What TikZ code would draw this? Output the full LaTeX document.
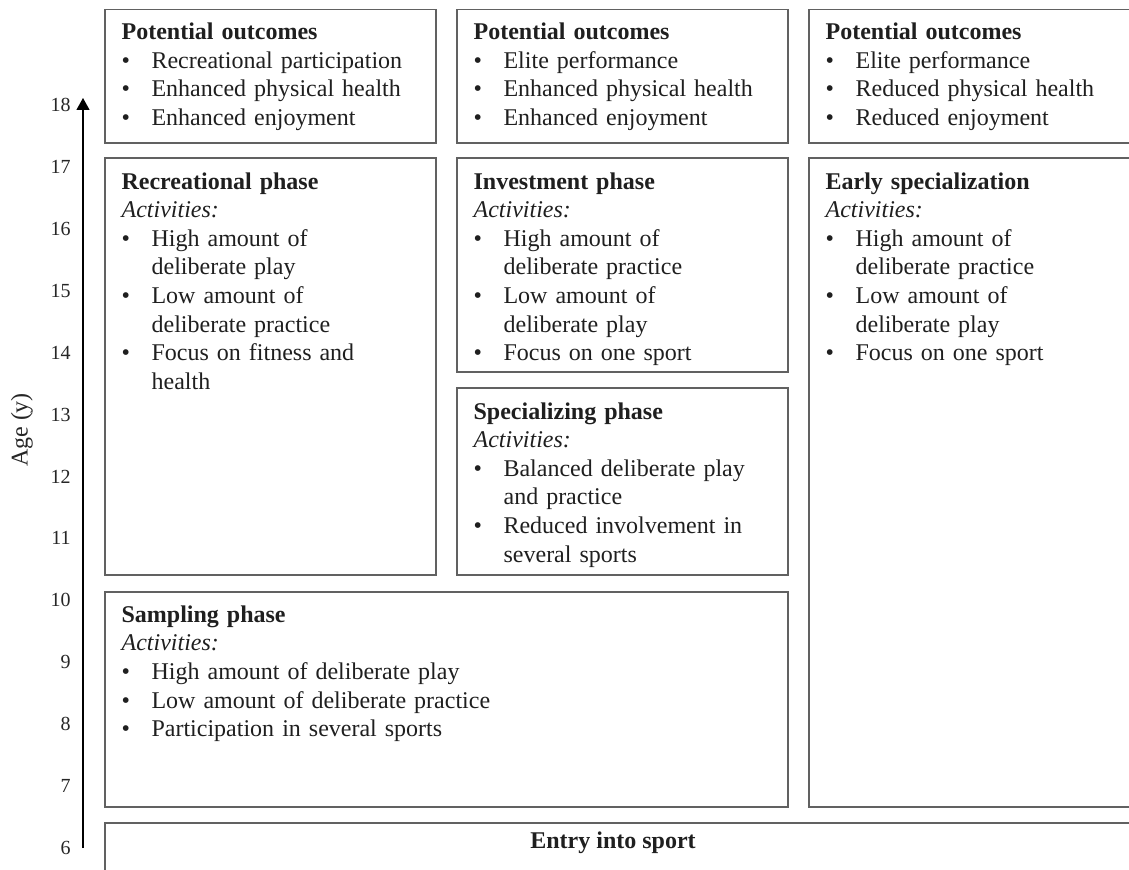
\documentclass[tikz,border=0pt]{standalone}
\usepackage{fontspec}
\setmainfont{Liberation Serif}
\usetikzlibrary{arrows.meta,fit}
% list helpers for the box texts
\newcommand{\bul}[1]{\par\hangindent=15pt\hangafter=1\noindent\makebox[15pt][l]{\textbullet}#1\par}
\newcommand{\ttl}[1]{\noindent\textbf{#1}}
\newcommand{\act}{\par\noindent\textit{Activities:}}

\begin{document}
\begin{tikzpicture}[x=0.5pt,y=-0.5pt,
  box/.style={draw=black!62, line width=0.8pt, inner sep=0pt},
  txt/.style={anchor=base west, inner sep=0pt, text width=200pt, align=left,
              font=\fontsize{12}{14.3}\selectfont, text=black!88},
  tick/.style={anchor=east, inner sep=0pt, font=\fontsize{10}{12}\selectfont, text=black!85}]

\useasboundingbox (0,0) rectangle (1129,870);
\clip (0,0) rectangle (1129,870);

% age axis
\coordinate (axbot) at (83,848);
\coordinate (axtop) at (83,98);
\draw[line width=0.55pt, -{Triangle[length=6pt,width=6.5pt]}] (axbot) -- (axtop);
\foreach \a in {6,...,18}{
  \node[tick] (age\a) at (71,{848-(\a-6)*61.92}) {\a};
}
\node[rotate=90, inner sep=0pt, font=\fontsize{12}{14}\selectfont, text=black!85] (agelabel) at (22,430) {Age (y)};

% outcome boxes
\node[box, fit={(105,9.5) (436,143)}] (po1) {};
\node[box, fit={(457,9.5) (788,143)}] (po2) {};
\node[box, fit={(809,9.5) (1140,143)}] (po3) {};

% phase boxes
\node[box, fit={(105,158) (436,575)}] (rec) {};
\node[box, fit={(457,158) (788,372)}] (inv) {};
\node[box, fit={(457,388) (788,575)}] (spec) {};
\node[box, fit={(809,158) (1140,807)}] (early) {};
\node[box, fit={(105,592) (788,807)}] (samp) {};
\node[box, fit={(105,823) (1140,890)}] (entry) {};

% box texts
\node[txt] (po1t) at ([xshift=8.5pt,yshift=-15.5pt]po1.north west)
  {\ttl{Potential outcomes}\bul{Recreational participation}\bul{Enhanced physical health}\bul{Enhanced enjoyment}};
\node[txt] (po2t) at ([xshift=8.5pt,yshift=-15.5pt]po2.north west)
  {\ttl{Potential outcomes}\bul{Elite performance}\bul{Enhanced physical health}\bul{Enhanced enjoyment}};
\node[txt] (po3t) at ([xshift=8.5pt,yshift=-15.5pt]po3.north west)
  {\ttl{Potential outcomes}\bul{Elite performance}\bul{Reduced physical health}\bul{Reduced enjoyment}};

\node[txt] (rect) at ([xshift=8.5pt,yshift=-16pt]rec.north west)
  {\ttl{Recreational phase}\act\bul{High amount of\newline deliberate play}\bul{Low amount of\newline deliberate practice}\bul{Focus on fitness and\newline health}};
\node[txt] (invt) at ([xshift=8.5pt,yshift=-16pt]inv.north west)
  {\ttl{Investment phase}\act\bul{High amount of\newline deliberate practice}\bul{Low amount of\newline deliberate play}\bul{Focus on one sport}};
\node[txt] (spect) at ([xshift=8.5pt,yshift=-16pt]spec.north west)
  {\ttl{Specializing phase}\act\bul{Balanced deliberate play\newline and practice}\bul{Reduced involvement in\newline several sports}};
\node[txt] (earlyt) at ([xshift=8.5pt,yshift=-16pt]early.north west)
  {\ttl{Early specialization}\act\bul{High amount of\newline deliberate practice}\bul{Low amount of\newline deliberate play}\bul{Focus on one sport}};
\node[txt, text width=320pt] (sampt) at ([xshift=8.5pt,yshift=-15.5pt]samp.north west)
  {\ttl{Sampling phase}\act\bul{High amount of deliberate play}\bul{Low amount of deliberate practice}\bul{Participation in several sports}};

\node[anchor=base, inner sep=0pt, font=\fontsize{12}{14}\selectfont\bfseries, text=black!88] (entryt) at (613,848) {Entry into sport};
\end{tikzpicture}
\end{document}
